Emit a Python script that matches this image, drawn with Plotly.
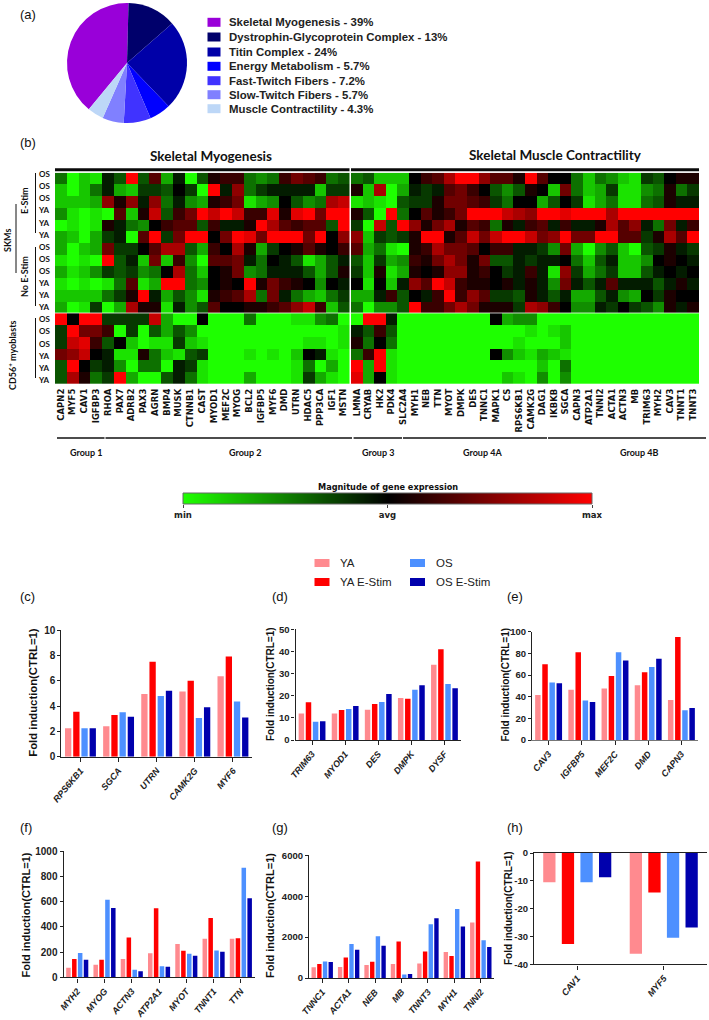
import plotly.graph_objects as go

W, H = 709, 1020

pie_labels = ["Skeletal Myogenesis", "Dystrophin-Glycoprotein Complex", "Titin Complex", "Energy Metabolism",
              "Fast-Twitch Fibers", "Slow-Twitch Fibers", "Muscle Contractility"]
pie_values = [39, 13, 24, 5.7, 7.2, 5.7, 4.3]
pie_text = ["39%", "13%", "24%", "5.7%", "7.2%", "5.7%", "4.3%"]
pie_colors = ["#9900d9", "#00006b", "#0000a8", "#0000ff", "#4033ff", "#8080ff", "#bdd7f7"]

genes_left = ["CAPN2", "MYF5", "CAV1", "IGFBP3", "RHOA", "PAX7", "ADRB2", "PAX3", "AGRN", "BMP4", "MUSK", "CTNNB1", "CAST",
              "MYOD1", "MEF2C", "MYOG", "BCL2", "IGFBP5", "MYF6", "DMD", "UTRN", "HDAC5", "PPP3CA", "IGF1", "MSTN"]
genes_right = ["LMNA", "CRYAB", "HK2", "PDK4", "SLC2A4", "MYH1", "NEB", "TTN", "MYOT", "DMPK", "DES", "TNNC1", "MAPK1", "CS",
               "RPS6KB1", "CAMK2G", "DAG1", "IKBKB", "SGCA", "CAPN3", "ATP2A1", "TNNI2", "ACTA1", "ACTN3", "MB", "TRIM63",
               "MYH2", "CAV3", "TNNT1", "TNNT3"]
row_labels = ["OS", "OS", "OS", "YA", "YA", "YA", "OS", "OS", "OS", "YA", "YA", "YA", "OS", "OS", "OS", "YA", "YA", "YA"]

heat_left = [
    [-4, -9, -7, -8, -1, -3, 9, -3, 3, -6, -1, -9, -3, 1, 2, 2, -4, -5, -4, 2, 4, 3, 2, -4, -3],
    [-7, -9, -7, -4, -1, -6, -7, -2, -2, -3, 0, -2, -9, 9, -1, 5, -4, -2, -1, -1, -1, -1, -7, -2, -2],
    [-7, -7, -7, -6, 5, 1, 5, -1, 5, -4, -1, -5, -6, 1, 2, 4, -8, -6, -5, 0, -3, -5, -4, 6, 7],
    [-5, -8, -9, -8, -9, 3, -7, 1, 7, -3, 2, 4, 9, 7, 9, 7, 2, 2, 8, 1, 8, 9, 4, 9, 9],
    [-9, -8, -9, -8, 1, -1, -4, -5, 0, 2, 3, 3, -3, 2, -1, -1, 1, 9, 6, 3, 2, 3, 3, -3, 9],
    [-6, -7, -9, -6, -2, -1, -9, 3, 9, -2, 4, 9, 9, 0, 4, 9, 8, 4, 9, 9, 9, 4, 9, 0, 5],
    [-6, -9, -7, -6, 4, -2, -2, 0, 3, 6, 6, -3, -6, 2, 0, 6, 1, -6, -2, 0, 1, 3, 1, 0, 2],
    [-8, -9, -8, -9, 9, -3, -1, -7, 4, -7, 2, -5, -9, 3, 3, 4, -1, -4, 0, -1, -3, -8, -6, -3, -1],
    [-6, -8, -7, -5, -2, -3, -2, -5, -4, 0, 6, -4, -7, 0, 1, 4, -5, -4, -1, -1, -1, -3, -6, -3, 1],
    [-8, -9, -8, -9, -8, -4, 3, -8, -6, 9, 9, -4, -5, 0, 1, 0, 9, 1, 4, 2, 1, 0, -5, 0, -1],
    [-7, -7, -7, -7, -4, -2, 1, 9, -1, -6, -3, -5, -8, 1, 2, 3, 6, -4, 4, -1, -4, -6, -7, -4, -2],
    [-6, -9, -8, -2, -9, -6, 6, 1, 1, -8, -1, -5, -3, 3, 0, 0, 1, 1, 2, 3, 5, 7, 2, -7, -3],
    [9, 0, 9, 9, -2, -2, -2, -2, 7, -6, -9, -9, 0, -9, -9, -9, -4, -9, -9, -9, -8, -8, -5, -4, -9],
    [-2, 9, 4, 4, 2, -9, -2, -9, -3, -6, -3, -5, -9, -9, -9, -9, -9, -9, -9, -9, -9, -9, -9, -9, -8],
    [-2, 7, 8, 2, -3, 0, -7, -9, -8, -8, -2, -7, -8, -9, -9, -9, -9, -9, -9, -9, -9, -8, -8, -9, -8],
    [4, 5, 7, 0, -1, -8, -8, 1, -4, -7, -8, -3, -2, -9, -9, -9, -8, -9, -8, -9, -7, 0, -1, -8, -9],
    [-3, 9, 0, -2, -1, -5, -9, -4, -4, -9, -1, -2, -8, -9, -9, -9, -9, -9, -9, -9, -8, -4, -9, -6, -9],
    [-3, 6, 1, -4, -2, 9, -6, -9, -9, -3, -1, -4, -8, -9, -9, -9, -6, -9, -9, -9, -8, -2, -6, -8, -9],
]
heat_right = [
    [-4, -3, -7, -7, -7, 0, 2, 3, 6, 9, 9, 5, 3, 3, 1, 9, 3, 0, 0, -4, -7, -4, -5, -7, -8, -2, -3, 0, 1, 1],
    [1, -7, 6, -9, -6, -1, -2, -1, 3, 4, 2, 0, -3, -5, -3, 1, 0, -7, 4, -4, -7, -6, -2, -8, -8, -5, -4, 1, -4, -2],
    [-8, -7, -8, -9, -3, -2, -2, 1, 4, 4, 3, 2, -2, -4, 0, 0, -6, -3, 0, -2, -8, -6, -4, -8, -8, -4, -3, 1, -1, -1],
    [1, -3, -9, 9, -4, 0, 3, 1, 2, 4, 9, 9, 9, 7, 6, 5, 9, 9, 8, 9, 9, 9, 6, 9, 9, 9, 9, 9, 9, 9],
    [-2, -9, 7, -3, 9, 5, 1, 4, 6, 1, 3, 2, -4, 1, -1, 2, 3, -1, 2, -1, -1, 1, 6, 3, 5, -1, -4, 4, -1, 2],
    [5, -7, -2, -3, -2, 1, 9, 9, 1, 3, 7, 4, 7, 9, 9, 7, 4, 5, 9, 4, 4, 9, 9, 3, 3, -2, 1, 6, 3, 9],
    [3, -6, -4, -8, -9, 1, 2, 6, 4, 4, 3, 0, 2, 2, -1, -1, -2, -5, 4, -6, -9, -5, -3, -7, -9, -3, -2, 1, -1, -2],
    [-3, -7, -2, -6, -5, 2, 1, 4, 6, 4, 1, 4, -3, -3, -1, -2, -1, -1, 0, -4, -7, -3, -1, -7, -7, -5, 0, 1, 0, -1],
    [-2, -7, 1, -8, -6, 1, 0, 1, 5, 5, 1, 2, 0, -2, -1, 2, -1, -8, 5, -2, -6, -4, -2, -7, -7, -3, -1, 0, -1, 0],
    [0, -8, 0, -7, -1, 5, 3, 9, 7, 2, 1, 1, 0, 1, -1, 1, -1, -5, 4, -1, -3, -1, 3, -1, -1, -1, -3, -1, 1, -1],
    [-6, -6, -1, 2, -3, 0, -1, 2, 9, 2, 5, 3, -2, -2, -3, 1, -1, -3, -1, -6, -6, -3, -1, -5, -6, 0, -2, 1, 0, 0],
    [-4, -9, -5, -5, -3, 9, 2, 2, 4, 6, 4, 1, 1, 1, -2, 6, 5, 2, 0, -5, -5, -1, -2, 0, -2, -3, -5, 1, -1, 1],
    [-9, 9, 9, -1, -9, -9, -9, -9, -9, -9, -9, -9, 0, -6, -5, -5, -9, -9, -9, -9, -9, -9, -9, -9, -9, -9, -9, -9, -9, -9],
    [-1, -3, 2, -3, -9, -9, -9, -9, -9, -9, -9, -9, -9, -9, -9, -8, -9, -8, -7, -9, -9, -9, -9, -9, -9, -9, -9, -9, -9, -9],
    [1, -4, 0, -4, -9, -9, -9, -9, -9, -9, -9, -9, -9, -9, -8, -9, -9, -9, -7, -9, -9, -9, -9, -9, -9, -9, -9, -9, -9, -9],
    [-4, 2, 9, -8, -9, -9, -9, -9, -9, -9, -9, -9, 0, -5, -7, -8, -6, -7, -8, -9, -9, -9, -9, -9, -9, -9, -9, -9, -9, -9],
    [9, -6, 9, -8, -9, -9, -9, -9, -9, -9, -9, -9, -9, -9, -9, -9, -7, -9, -4, -9, -9, -9, -9, -9, -9, -9, -9, -9, -9, -9],
    [8, -6, 0, -8, -9, -9, -9, -9, -9, -9, -9, -9, -9, -7, -8, -9, -5, -9, -5, -9, -9, -9, -9, -9, -9, -9, -9, -9, -9, -9],
]
key_ramp = list(range(-9, 10))
key_ticks = [-9, 0, 9]
key_tick_labels = ["min", "avg", "max"]

series_names = ["YA", "YA E-Stim", "OS", "OS E-Stim"]
series_colors = ["#ff8a8f", "#ff0000", "#4d90ff", "#0000ad"]

c_genes = ["RPS6KB1", "SGCA", "UTRN", "CAMK2G", "MYF6"]
c_ya = [2.25, 2.4, 4.95, 5.15, 6.35]
c_yae = [3.55, 3.3, 7.5, 6.0, 7.9]
c_os = [2.25, 3.5, 4.8, 3.05, 4.35]
c_ose = [2.25, 3.15, 5.2, 3.9, 3.1]

d_genes = ["TRIM63", "MYOD1", "DES", "DMPK", "DYSF"]
d_ya = [12, 12, 13.7, 19, 34]
d_yae = [17, 13.6, 16.3, 18.6, 41]
d_os = [8.2, 14, 17.2, 22.7, 25.3]
d_ose = [8.5, 15.4, 20.8, 24.7, 23.4]

e_genes = ["CAV3", "IGFBP5", "MEF2C", "DMD", "CAPN3"]
e_ya = [41.5, 46.5, 47.5, 50.5, 37]
e_yae = [70, 81, 59, 62.5, 95]
e_os = [53, 36.5, 81, 67.5, 27.5]
e_ose = [52.5, 35, 73.5, 75, 29.5]

f_genes = ["MYH2", "MYOG", "ACTN3", "ATP2A1", "MYOT", "TNNT1", "TTN"]
f_ya = [75, 100, 145, 190, 265, 305, 305]
f_yae = [145, 140, 315, 548, 210, 470, 310]
f_os = [192, 615, 60, 88, 187, 213, 870]
f_ose = [140, 550, 48, 83, 172, 202, 627]

g_genes = ["TNNC1", "ACTA1", "NEB", "MB", "TNNT3", "MYH1", "TNNI2"]
g_ya = [530, 540, 640, 680, 710, 1270, 2720]
g_yae = [680, 1000, 800, 1780, 1300, 1070, 5700]
g_os = [810, 1660, 2040, 170, 2630, 3370, 1850]
g_ose = [780, 1380, 1580, 190, 2920, 2520, 1520]

h_genes = ["CAV1", "MYF5"]
h_ya = [-10.5, -36.2]
h_yae = [-32.7, -14.2]
h_os = [-10.5, -30.5]
h_ose = [-8.7, -26.8]

SANS = "Liberation Sans"
NARROW = "Liberation Sans Narrow, Liberation Sans"
CALI = "Lato"


def px(x):
    return x / W


def py(y):
    return 1 - y / H


fig = go.Figure()
layout = dict(template="none", width=W, height=H, margin=dict(l=0, r=0, t=0, b=0, pad=0), autosize=False,
              paper_bgcolor="white", plot_bgcolor="white", showlegend=False, barmode="overlay")
ann = []
shapes = []


def text(x, y, s, size=11, color="#111", family=SANS, weight="normal", anchor="left", angle=0, style="normal"):
    ann.append(dict(x=px(x), y=py(y), xref="paper", yref="paper", text=s, showarrow=False, xanchor=anchor,
                    yanchor="middle", textangle=angle,
                    font=dict(size=size, color=color, family=family, weight=weight, style=style)))


def line(x0, y0, x1, y1, width=1.0, color="#111"):
    shapes.append(dict(type="line", xref="paper", yref="paper", x0=px(x0), y0=py(y0), x1=px(x1), y1=py(y1),
                       line=dict(width=width, color=color)))


def box(x0, y0, x1, y1, color):
    shapes.append(dict(type="rect", xref="paper", yref="paper", x0=px(x0), y0=py(y0), x1=px(x1), y1=py(y1),
                       line=dict(width=0), fillcolor=color))


# (a) pie
fig.add_trace(go.Pie(labels=pie_labels, values=pie_values, sort=False, direction="clockwise",
                     rotation=-140.5, textinfo="none", marker=dict(colors=pie_colors, line=dict(width=0)),
                     domain=dict(x=[px(67), px(187)], y=[py(123), py(3)])))
text(18, 15, "(a)", 13)
pie_rows = [22.3, 37, 52, 66.3, 80.7, 94.7, 108.7]
for lab, val, col, y in zip(pie_labels, pie_text, pie_colors, pie_rows):
    box(207.5, y - 4.5, 220.5, y + 4.5, col)
    text(227, y, f"{lab} - {val}", 11.4, weight="bold", color="#222")

# (b) heatmap
text(18, 143, "(b)", 13)
scale = [[0, "rgb(30,255,0)"], [0.5, "rgb(0,0,0)"], [1, "rgb(255,0,0)"]]
rows = list(range(18))
gene_font = dict(size=8.5, family="DejaVu Sans", color="#111", weight="bold")
fig.add_trace(go.Heatmap(z=heat_left, x=genes_left, y=rows, xaxis="x", yaxis="y", colorscale=scale, zmin=-9, zmax=9,
                         showscale=False))
fig.add_trace(go.Heatmap(z=heat_right, x=genes_right, y=rows, xaxis="x2", yaxis="y2", colorscale=scale, zmin=-9, zmax=9,
                         showscale=False))
for i, (name, dom, genes) in enumerate([("", (55, 349.5), genes_left), ("2", (351, 699), genes_right)]):
    layout["xaxis" + name] = dict(domain=[px(dom[0]), px(dom[1])], type="category", tickangle=-90, tickfont=gene_font,
                                  tickmode="array", tickvals=genes, ticktext=genes, ticks="", showline=False,
                                  showgrid=False, zeroline=False, anchor="y" + name, ticklabelstandoff=2,
                                  automargin=False, range=[-0.5, len(genes) - 0.5])
    layout["yaxis" + name] = dict(domain=[py(384), py(172.7)], range=[17.5, -0.5], showticklabels=False, ticks="",
                                  showline=False, showgrid=False, zeroline=False, anchor="x" + name, automargin=False)
# small dots below the gene labels
fig.add_trace(go.Scatter(x=genes_left, y=[21.06] * len(genes_left), xaxis="x", yaxis="y", mode="markers",
                         cliponaxis=False, marker=dict(size=1.8, color="#555")))

# gene-expression key
fig.add_trace(go.Heatmap(z=[key_ramp], x=key_ramp, y=[0], xaxis="x9", yaxis="y9", colorscale=scale, zmin=-9, zmax=9,
                         showscale=False, zsmooth="best"))
layout["xaxis9"] = dict(domain=[px(183), px(592)], range=[-9, 9], anchor="y9", tickmode="array", tickvals=key_ticks,
                        ticktext=key_tick_labels, ticks="outside", ticklen=3, tickcolor="#444", showline=False,
                        showgrid=False, zeroline=False, automargin=False,
                        tickfont=dict(size=8.5, family="DejaVu Sans", color="#222", weight="bold"))
layout["yaxis9"] = dict(domain=[py(504), py(493)], range=[-0.5, 0.5], anchor="x9", showticklabels=False, ticks="",
                        showline=False, showgrid=False, zeroline=False, automargin=False)
shapes.append(dict(type="rect", xref="paper", yref="paper", x0=px(183), x1=px(592), y0=py(504), y1=py(493),
                   line=dict(width=1, color="#666")))
text(388, 487, "Magnitude of gene expression", 8.2, family="DejaVu Sans", weight="bold", anchor="center")

line(55, 169.8, 349.5, 169.8, 3, "#0a0a0a")
line(351, 169.8, 699, 169.8, 3, "#0a0a0a")
box(55, 312.6, 699, 313.6, "rgba(255,255,255,0.75)")
text(211, 156, "Skeletal Myogenesis", 13.5, family=CALI, weight="bold", anchor="center")
text(555, 155, "Skeletal Muscle Contractility", 13.5, family=CALI, weight="bold", anchor="center")
for i, lab in enumerate(row_labels):
    text(44, 174.2 + i * 12.1, lab, 8, family=CALI, weight="bold", anchor="center")
line(35.5, 173, 35.5, 233, 1)
line(35.5, 247, 35.5, 306, 1)
line(35.5, 318, 35.5, 378, 1)
line(16, 204, 16, 273, 1)
text(25, 201, "E-Stim", 9, family=CALI, weight="bold", anchor="center", angle=-90)
text(25, 277, "No E-Stim", 9, family=CALI, weight="bold", anchor="center", angle=-90)
text(7, 241, "SKMs", 9, family=CALI, weight="bold", anchor="center", angle=-90)
text(12, 356, "CD56<sup>+</sup> myoblasts", 9, family=CALI, weight="bold", anchor="center", angle=-90)
for x0, x1, xc, lab in [(57, 104.5, 86, "Group 1"), (105.5, 352, 245, "Group 2"), (353.6, 402, 378, "Group 3"),
                        (403, 547, 482, "Group 4A"), (548, 706, 639, "Group 4B")]:
    line(x0, 438, x1, 438, 1.4)
    text(xc, 452, lab, 9, family=CALI, weight="bold", anchor="center")

# legend of the bar charts
for (x0, y), name, col in zip([(314.5, 563), (314.5, 582), (410, 563), (410, 582)], series_names, series_colors):
    box(x0, y - 4, x0 + 15, y + 4, col)
    text(x0 + 23.5, y, name, 11.5, family=NARROW, color="#222")

# (c)-(h) bars
panels = [
    ("c", c_genes, [c_ya, c_yae, c_os, c_ose], (61.4, 252), (630, 756.7), [0, 2, 4, 6, 8, 10], (18, 596), (33, 692.7), 11.3, 0.77, 10),
    ("d", d_genes, [d_ya, d_yae, d_os, d_ose], (295.5, 461), (629.3, 740), [0, 10, 20, 30, 40, 50], (270, 596), (270, 684), 10, 0.77, 9.5),
    ("e", e_genes, [e_ya, e_yae, e_os, e_ose], (532, 698), (631.7, 740), [0, 20, 40, 60, 80, 100], (505, 596), (504.5, 685), 10, 0.77, 9.5),
    ("f", f_genes, [f_ya, f_yae, f_os, f_ose], (63.6, 254.5), (851.3, 977.3), [0, 200, 400, 600, 800, 1000], (18, 827), (25.5, 915), 11, 0.77, 10),
    ("g", g_genes, [g_ya, g_yae, g_os, g_ose], (309, 494), (855.3, 978), [0, 2000, 4000, 6000], (270, 827), (270, 916), 11, 0.77, 9.5),
    ("h", h_genes, [h_ya, h_yae, h_os, h_ose], (534, 707), (853, 964.3), [-40, -30, -20, -10, 0], (505, 827), (508, 908), 10, 0.66, 9.5),
]
for k, (tag, genes, values, xdom, ydom, yticks, lab_pos, title_pos, title_size, fill, tick_size) in enumerate(panels):
    n = str(k + 3)
    step = 0.215
    w = step * fill
    for i, (vals, col, name) in enumerate(zip(values, series_colors, series_names)):
        fig.add_trace(go.Bar(x=genes, y=vals, name=name, xaxis="x" + n, yaxis="y" + n, width=w,
                             offset=-2 * step + i * step + (step - w) / 2, marker=dict(color=col, line=dict(width=0))))
    axis_col = "#777" if tag == "e" else "#222"
    layout["xaxis" + n] = dict(domain=[px(xdom[0]), px(xdom[1])], type="category", categoryorder="array",
                               categoryarray=genes, range=[-0.5, len(genes) - 0.5], anchor="y" + n, tickangle=-50,
                               ticks="outside", ticklen=4, tickwidth=1, tickcolor="#222", showline=True,
                               linecolor=axis_col, linewidth=1.4, showgrid=False, zeroline=False,
                               mirror=(tag == "h"), automargin=False,
                               tickfont=dict(size=9, family=SANS, color="#222", style="italic", weight="bold"))
    layout["yaxis" + n] = dict(domain=[py(ydom[1]), py(ydom[0])], range=[yticks[0], yticks[-1]], anchor="x" + n,
                               tickmode="array", tickvals=yticks, ticktext=[str(t) for t in yticks], ticks="outside",
                               ticklen=3, tickwidth=1, tickcolor="#222", showline=True, linecolor="#222", linewidth=1.2,
                               showgrid=False, zeroline=False, automargin=False,
                               tickfont=dict(size=tick_size, family=NARROW, color="#222", weight="bold"))
    text(lab_pos[0], lab_pos[1], f"({tag})", 13)
    text(title_pos[0], title_pos[1], "Fold induction(CTRL=1)", title_size, weight="bold", anchor="center", angle=-90)

layout["annotations"] = ann
layout["shapes"] = shapes
fig.update_layout(**layout)
fig.write_html("out.html", config={"displayModeBar": False}, post_script="document.body.style.margin='0';")
